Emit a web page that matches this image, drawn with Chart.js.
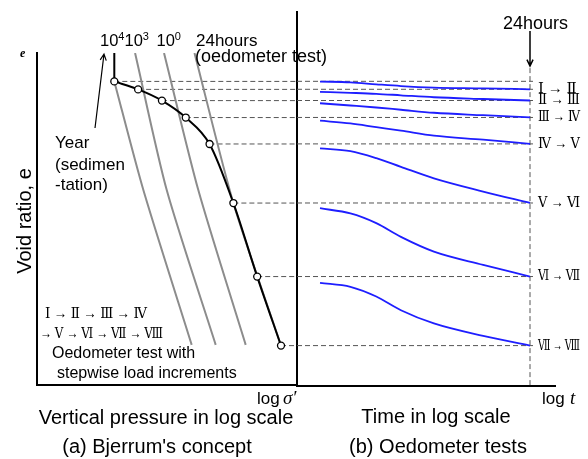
<!DOCTYPE html>
<html>
<head>
<meta charset="utf-8">
<script src="https://cdn.jsdelivr.net/npm/chart.js@4"></script>
<style>
  html, body { margin: 0; padding: 0; background: #fff; }
  #wrap { position: relative; width: 588px; height: 459px; }
  #wrap canvas { position: absolute; left: 0; top: 0; }
</style>
</head>
<body>
<div id="wrap">
  <canvas id="bjerrum" width="588" height="459"></canvas>
  <canvas id="oedometer" width="588" height="459"></canvas>
</div>
<script>
'use strict'

// load steps (kPa, doubled each step) and void ratio reached after 24 hours
const sigma = [10, 20, 40, 80, 160, 320, 640, 1280];
const eEnd = [1.722, 1.690, 1.645, 1.577, 1.471, 1.234, 0.939, 0.662];
const stepLabels = ['Ⅰ → Ⅱ', 'Ⅱ → Ⅲ', 'Ⅲ → Ⅳ', 'Ⅳ → Ⅴ', 'Ⅴ → Ⅵ', 'Ⅵ → Ⅶ', 'Ⅶ → Ⅷ'];

// Bjerrum isochrones (sigma', e)
const iso1e4Sigma = [10, 23.3, 95.1];
const iso1e4E = [1.722, 1.286, 0.665];
const iso1e3Sigma = [18.3, 46.0, 191.3];
const iso1e3E = [1.836, 1.286, 0.665];
const iso1e0Sigma = [42.5, 115.3, 458.1];
const iso1e0E = [1.836, 1.286, 0.665];
const iso24hSigma = [103.2, 320, 1280];
const iso24hE = [1.836, 1.234, 0.662];
const sedimentSigma = [10, 10];
const sedimentE = [1.836, 1.722];
const isoLabels = ['4', '3', '0'];

// oedometer tests: elapsed time (min) and void ratio for each load step
const tMin = [0.1, 0.4, 1.3, 4, 18, 170, 1440];
const creep12 = [1.721, 1.718, 1.710, 1.703, 1.697, 1.694, 1.690];
const creep23 = [1.680, 1.676, 1.672, 1.666, 1.658, 1.651, 1.645];
const creep34 = [1.634, 1.625, 1.617, 1.608, 1.596, 1.586, 1.577];
const creep45 = [1.564, 1.553, 1.538, 1.524, 1.504, 1.488, 1.471];
const creep56 = [1.453, 1.442, 1.414, 1.379, 1.333, 1.280, 1.234];
const creep67 = [1.213, 1.192, 1.153, 1.098, 1.039, 0.986, 0.939];
const creep78 = [0.914, 0.898, 0.859, 0.804, 0.751, 0.701, 0.662];
const t24h = 1440;

const SANS = '"Liberation Sans", Arial, sans-serif';
const SERIF = '"Liberation Serif", "DejaVu Serif", serif';

const pts = (xs, ys) => xs.map((x, i) => ({x: x, y: ys[i]}));

function arrow(ctx, x1, y1, x2, y2) {
	const a = Math.atan2(y2 - y1, x2 - x1);
	ctx.beginPath();
	ctx.moveTo(x1, y1);
	ctx.lineTo(x2, y2);
	ctx.moveTo(x2 - 7 * Math.cos(a - 0.45), y2 - 7 * Math.sin(a - 0.45));
	ctx.lineTo(x2, y2);
	ctx.lineTo(x2 - 7 * Math.cos(a + 0.45), y2 - 7 * Math.sin(a + 0.45));
	ctx.stroke();
}

function axisOpts(min, max, type) {
	return {
		type: type,
		min: min,
		max: max,
		ticks: {display: false},
		grid: {display: false, drawTicks: false},
		border: {display: true, color: '#000', width: 2},
	};
}

const baseOptions = {
	responsive: false,
	animation: false,
	devicePixelRatio: 1,
	events: [],
	plugins: {legend: {display: false}, tooltip: {enabled: false}},
};

// ---------- (a) Bjerrum's concept ----------
let dashA = [];
sigma.forEach((s, i) => {
	dashA.push({x: s, y: eEnd[i]}, {x: 2039, y: eEnd[i]}, {x: 2039, y: null});
});

const greyLine = (data) => ({
	data: data, borderColor: '#8c8c8c', borderWidth: 2, pointRadius: 0, tension: 0.25,
});

const bjerrumText = {
	id: 'bjerrumText',
	afterDraw(chart) {
		const {ctx} = chart;
		ctx.save();
		ctx.fillStyle = '#000';
		ctx.strokeStyle = '#000';
		ctx.lineWidth = 1.2;
		ctx.textBaseline = 'alphabetic';
		ctx.textAlign = 'left';

		ctx.font = 'italic bold 12px ' + SERIF;
		ctx.fillText('e', 20, 57);

		ctx.save();
		ctx.translate(31, 221);
		ctx.rotate(-Math.PI / 2);
		ctx.textAlign = 'center';
		ctx.font = '20px ' + SANS;
		ctx.fillText('Void ratio, e', 0, 0);
		ctx.restore();

		// isochrone labels 10^4 10^3 10^0
		let xs = [100, 0, 156.5];
		let cx = 100;
		isoLabels.forEach((p, i) => {
			if (xs[i]) cx = xs[i];
			ctx.font = '16.5px ' + SANS;
			ctx.fillText('10', cx, 46);
			cx += ctx.measureText('10').width;
			ctx.font = '11px ' + SANS;
			ctx.fillText(p, cx, 40);
			cx += ctx.measureText(p).width;
		});
		ctx.font = '17px ' + SANS;
		ctx.fillText('24hours', 196, 46);
		ctx.font = '18px ' + SANS;
		ctx.fillText('(oedometer test)', 195, 62);

		arrow(ctx, 95, 128, 104, 54);
		ctx.font = '17px ' + SANS;
		ctx.fillText('Year', 55, 148);
		ctx.fillText('(sedimen', 55, 170);
		ctx.fillText('-tation)', 55, 190);

		ctx.font = '15px ' + SERIF;
		ctx.fillText('Ⅰ → Ⅱ → Ⅲ → Ⅳ', 45, 318, 102);
		ctx.fillText('→ Ⅴ → Ⅵ → Ⅶ → Ⅷ', 40, 338, 123);

		ctx.font = '16px ' + SANS;
		ctx.fillText('Oedometer test with', 52, 358);
		ctx.fillText('stepwise load increments', 57, 378);

		ctx.font = '17px ' + SANS;
		ctx.fillText('log', 257, 404);
		ctx.font = 'italic 19px ' + SERIF;
		ctx.fillText('σ′', 283, 404);

		ctx.textAlign = 'center';
		ctx.font = '20px ' + SANS;
		ctx.fillText('Vertical pressure in log scale', 166, 424);
		ctx.fillText('(a) Bjerrum\'s concept', 157, 453);
		ctx.restore();
	},
};

new Chart(document.getElementById('bjerrum'), {
	type: 'line',
	data: {
		datasets: [
			{
				data: pts(sigma, eEnd), borderColor: '#000', borderWidth: 2,
				cubicInterpolationMode: 'monotone',
				pointRadius: 3.5, pointBorderWidth: 1.3,
				pointBackgroundColor: '#fff', pointBorderColor: '#000',
			},
			{data: pts(sedimentSigma, sedimentE), borderColor: '#000', borderWidth: 2, pointRadius: 0},
			greyLine(pts(iso24hSigma, iso24hE)),
			greyLine(pts(iso1e0Sigma, iso1e0E)),
			greyLine(pts(iso1e3Sigma, iso1e3E)),
			greyLine(pts(iso1e4Sigma, iso1e4E)),
			{data: dashA, borderColor: '#555', borderWidth: 1, borderDash: [5, 3], pointRadius: 0},
		],
	},
	options: Object.assign({}, baseOptions, {
		layout: {padding: {left: 37, top: 53, right: 291, bottom: 74}},
		scales: {
			x: axisOpts(1.054, 2039, 'logarithmic'),
			y: axisOpts(0.504, 1.836, 'linear'),
		},
	}),
	plugins: [bjerrumText],
});

// ---------- (b) Oedometer tests ----------
let dashB = [];
eEnd.forEach((e) => {
	dashB.push({x: 0.035, y: e}, {x: 1650, y: e}, {x: 1650, y: null});
});

const blueLine = (ys) => ({
	data: pts(tMin, ys), borderColor: '#1e1eff', borderWidth: 1.8,
	pointRadius: 0, cubicInterpolationMode: 'monotone',
});

const oedometerText = {
	id: 'oedometerText',
	afterDraw(chart) {
		const {ctx, scales: {x, y}} = chart;
		const x24 = x.getPixelForValue(t24h);
		ctx.save();
		ctx.fillStyle = '#000';
		ctx.strokeStyle = '#000';
		ctx.lineWidth = 1.5;
		ctx.textAlign = 'left';
		ctx.textBaseline = 'alphabetic';

		ctx.font = '18px ' + SANS;
		ctx.fillText('24hours', 503, 29);
		arrow(ctx, x24, 31, x24, 66);

		ctx.font = '15px ' + SERIF;
		ctx.textBaseline = 'middle';
		stepLabels.forEach((lab, i) => {
			ctx.fillText(lab, x24 + 8, y.getPixelForValue(eEnd[i + 1]), 42);
		});

		ctx.textBaseline = 'alphabetic';
		ctx.font = '17px ' + SANS;
		ctx.fillText('log', 542, 404);
		ctx.font = 'italic 19px ' + SERIF;
		ctx.fillText('t', 570, 404);

		ctx.textAlign = 'center';
		ctx.font = '20px ' + SANS;
		ctx.fillText('Time in log scale', 436, 423);
		ctx.fillText('(b) Oedometer tests', 438, 453);
		ctx.restore();
	},
};

new Chart(document.getElementById('oedometer'), {
	type: 'line',
	data: {
		datasets: [
			blueLine(creep12),
			blueLine(creep23),
			blueLine(creep34),
			blueLine(creep45),
			blueLine(creep56),
			blueLine(creep67),
			blueLine(creep78),
			{data: [{x: t24h, y: 1.775}, {x: t24h, y: 0.5}], borderColor: '#555', borderWidth: 1, borderDash: [5, 3], pointRadius: 0},
			{data: dashB, borderColor: '#555', borderWidth: 1, borderDash: [5, 3], pointRadius: 0},
		],
	},
	options: Object.assign({}, baseOptions, {
		layout: {padding: {left: 297, top: 12, right: 33, bottom: 73}},
		scales: {
			x: axisOpts(0.035, 4502, 'logarithmic'),
			y: axisOpts(0.5, 2.0, 'linear'),
		},
	}),
	plugins: [oedometerText],
});
</script>
</body>
</html>
